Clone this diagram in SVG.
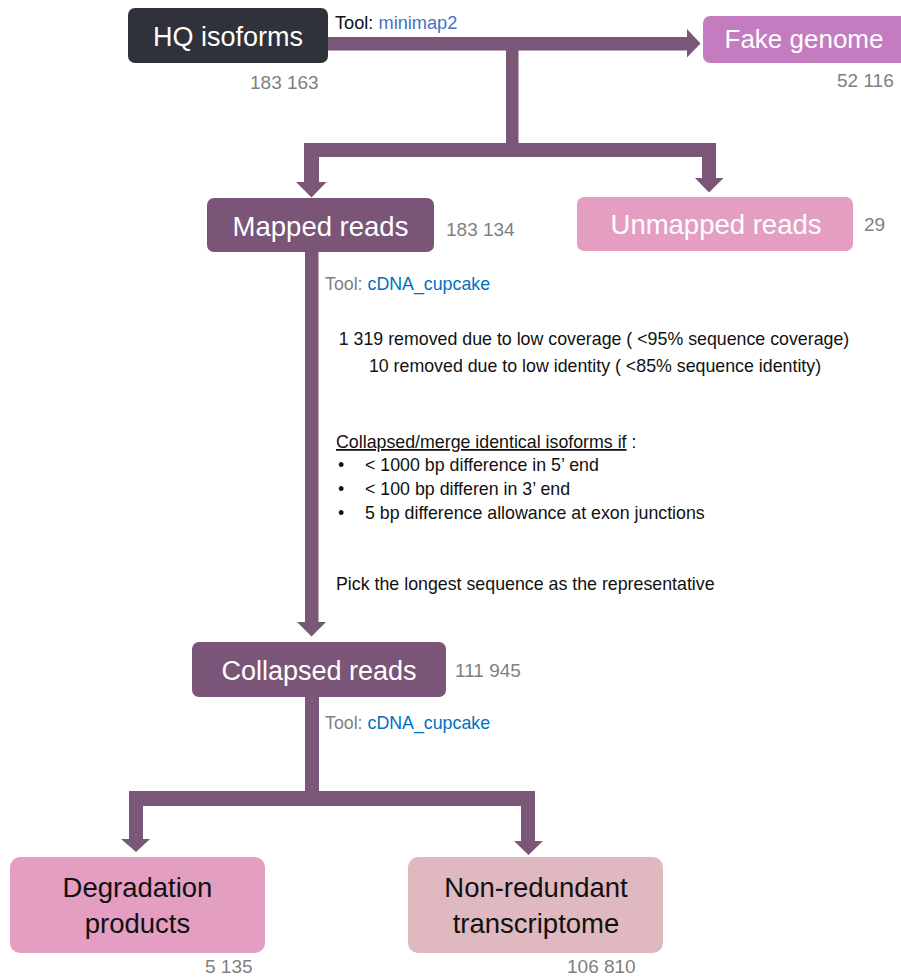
<svg xmlns="http://www.w3.org/2000/svg" width="901" height="978" viewBox="0 0 901 978">
  <style>
    .label { font-family: "Liberation Sans", Arial, sans-serif; font-size: 27px; fill: #ffffff; text-anchor: middle; }
    .label.dark { fill: #111111; font-size: 27.5px; }
    .count { font-family: "Liberation Sans", Arial, sans-serif; font-size: 19px; fill: #7f7f7f; }
    .note { font-family: "Liberation Sans", Arial, sans-serif; font-size: 17.8px; fill: #111111; }
    .grey { fill: #7f7f7f; }
    .blue1 { fill: #4472c4; }
    .blue2 { fill: #0070c0; }
    .arrow { fill: #7a5677; }
  </style>
  <rect width="901" height="978" fill="#ffffff"/>

  <!-- connectors: thick block arrows -->
  <g id="connectors" class="arrow">
    <!-- HQ isoforms -> Fake genome -->
    <rect x="326" y="37" width="362" height="13.5"/>
    <polygon points="687,29 700.5,43.5 687,57.5"/>
    <!-- trunk down to the mapped / unmapped split -->
    <rect x="506" y="49" width="12.5" height="108"/>
    <rect x="304" y="143" width="412" height="14"/>
    <rect x="304" y="143" width="15" height="40"/>
    <polygon points="296,182 326.5,182 311.5,197.5"/>
    <rect x="702" y="143" width="14" height="36"/>
    <polygon points="695,178 723.5,178 709,192.5"/>
    <!-- Mapped reads -> Collapsed reads -->
    <rect x="305" y="250" width="13.5" height="373"/>
    <polygon points="297,622 326,622 311.5,636.5"/>
    <!-- Collapsed reads -> degradation / non-redundant split -->
    <rect x="305" y="696" width="14" height="110"/>
    <rect x="129" y="791" width="406" height="15"/>
    <rect x="129" y="791" width="14" height="49"/>
    <polygon points="121,839 150,839 136,852"/>
    <rect x="521" y="791" width="14" height="51"/>
    <polygon points="514,841 543,841 528.5,855"/>
  </g>

  <g id="hq-isoforms">
    <rect x="128" y="8" width="200" height="55" rx="7" fill="#2f313b"/>
    <text class="label" x="228" y="46">HQ isoforms</text>
    <text class="count" x="250" y="89">183 163</text>
  </g>

  <g id="tool-minimap2">
    <text class="note" x="335" y="29" style="font-size:18.2px">Tool: <tspan class="blue1">minimap2</tspan></text>
  </g>

  <g id="fake-genome">
    <rect x="703" y="16" width="212" height="47" rx="7" fill="#c47bbf"/>
    <text class="label" x="804" y="48" style="font-size:26px">Fake genome</text>
    <text class="count" x="837" y="87">52 116</text>
  </g>

  <g id="mapped-reads">
    <rect x="207" y="198" width="227" height="54" rx="7" fill="#7a5577"/>
    <text class="label" x="320.5" y="236" style="font-size:27.5px">Mapped reads</text>
    <text class="count" x="446" y="236">183 134</text>
  </g>

  <g id="unmapped-reads">
    <rect x="577" y="197" width="276" height="54" rx="7" fill="#e39ec2"/>
    <text class="label" x="716" y="234" style="font-size:27.5px">Unmapped reads</text>
    <text class="count" x="864" y="231">29</text>
  </g>

  <g id="cupcake-notes">
    <text class="note grey" x="325" y="290">Tool: <tspan class="blue2">cDNA_cupcake</tspan></text>
    <text class="note" x="594" y="345" text-anchor="middle">1 319 removed due to low coverage ( &lt;95% sequence coverage)</text>
    <text class="note" x="595" y="372" text-anchor="middle">10 removed due to low identity ( &lt;85% sequence identity)</text>
    <text class="note" x="336" y="448"><tspan text-decoration="underline">Collapsed/merge identical isoforms if</tspan> :</text>
    <text class="note" x="338" y="471">•</text>
    <text class="note" x="365" y="471">&lt; 1000 bp difference in 5’ end</text>
    <text class="note" x="338" y="495">•</text>
    <text class="note" x="365" y="495">&lt; 100 bp differen in 3’ end</text>
    <text class="note" x="338" y="519">•</text>
    <text class="note" x="365" y="519">5 bp difference allowance at exon junctions</text>
    <text class="note" x="336" y="590">Pick the longest sequence as the representative</text>
  </g>

  <g id="collapsed-reads">
    <rect x="192" y="642" width="254" height="55" rx="7" fill="#7a5577"/>
    <text class="label" x="319" y="680">Collapsed reads</text>
    <text class="count" x="455" y="677">111 945</text>
  </g>

  <g id="tool-cupcake-2">
    <text class="note grey" x="325" y="729">Tool: <tspan class="blue2">cDNA_cupcake</tspan></text>
  </g>

  <g id="degradation-products">
    <rect x="10" y="857" width="255" height="96" rx="10" fill="#e39ec2"/>
    <text class="label dark" x="137.5" y="897">Degradation</text>
    <text class="label dark" x="137.5" y="933">products</text>
    <text class="count" x="205" y="973">5 135</text>
  </g>

  <g id="non-redundant-transcriptome">
    <rect x="408" y="857" width="255" height="96" rx="10" fill="#dfb8c0"/>
    <text class="label dark" x="536" y="897">Non-redundant</text>
    <text class="label dark" x="536" y="933">transcriptome</text>
    <text class="count" x="567" y="973">106 810</text>
  </g>
</svg>
